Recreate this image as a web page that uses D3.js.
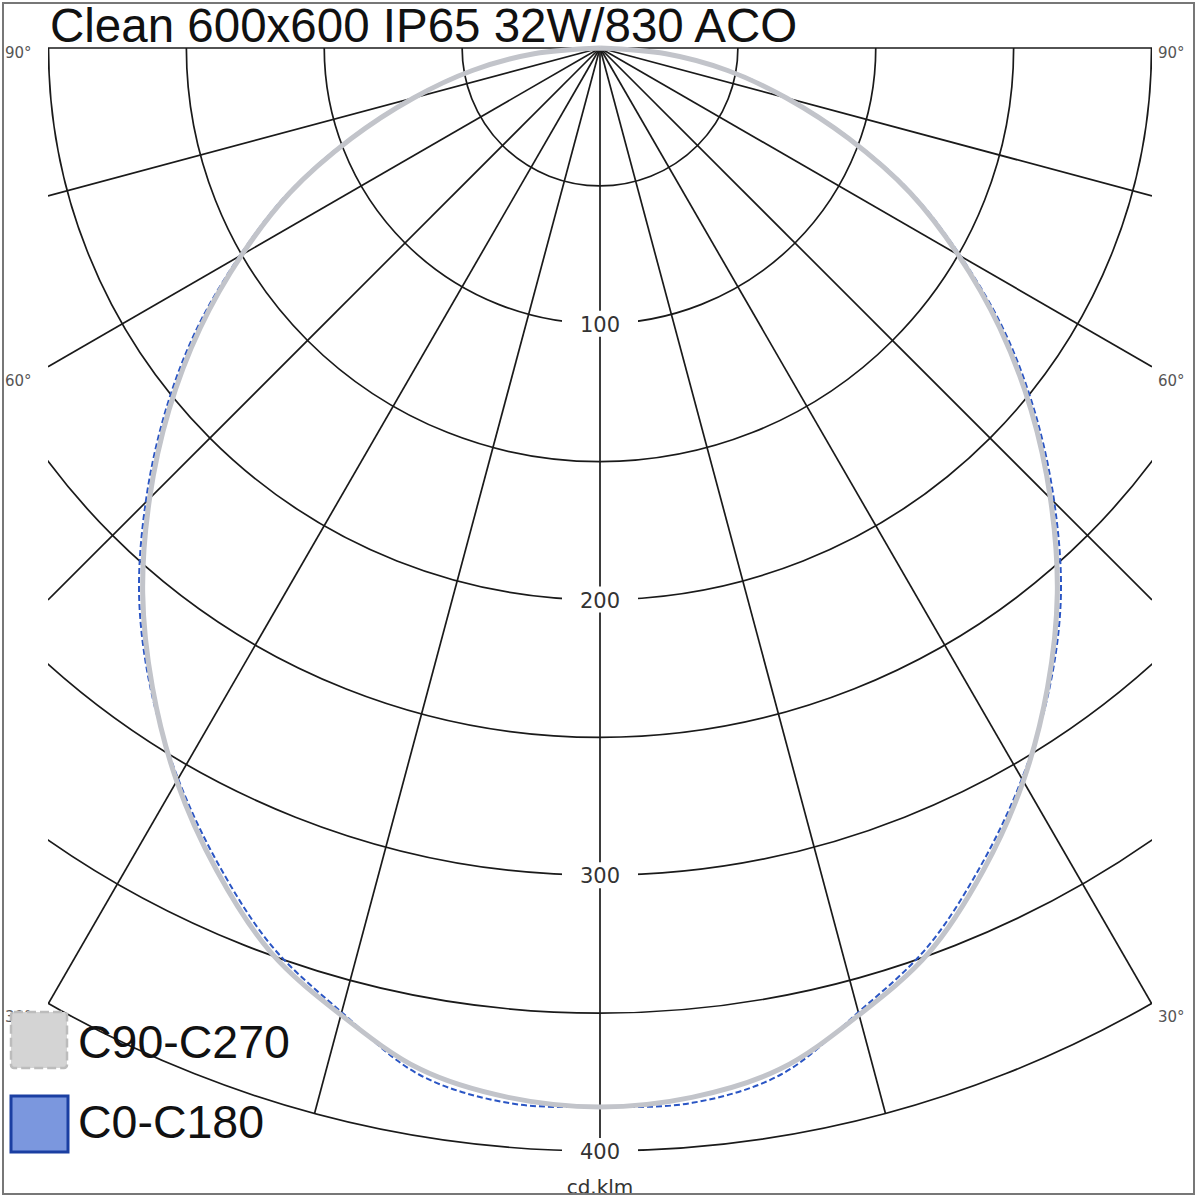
<!DOCTYPE html>
<html><head><meta charset="utf-8">
<script src="https://cdn.jsdelivr.net/npm/d3@7"></script>
<style>html,body{margin:0;padding:0;background:#fff}svg{display:block}text{font-family:"Liberation Sans",Arial,sans-serif}</style>
</head><body>
<script>
// ---- data ----
const title = "Clean 600x600 IP65 32W/830 ACO";
const unitLabel = "cd.klm";
const gamma = [-90,-85,-80,-75,-70,-65,-60,-55,-50,-45,-40,-35,-30,-25,-20,-15,-10,-5,0,5,10,15,20,25,30,35,40,45,50,55,60,65,70,75,80,85,90];
const c90c270 = [0,24,47,70,96,124,150,177,204,231,258,283,307,329,349,363,376,382,384,382,376,363,349,329,307,283,258,231,204,177,150,124,96,70,47,24,0];
const c0c180  = [0,24,48,71,97,125,151,179,206,233,260,284,306,327,347,362,378,384,384,384,378,362,347,327,306,284,260,233,206,179,151,125,97,71,48,24,0];
const ringValues = [50,100,150,200,250,300,350,400];
const ringLabels = [100,200,300,400];
const spokeAngles = [-90,-75,-60,-45,-30,-15,0,15,30,45,60,75,90];
const angleLabels = [90,60,30];
const seriesNames = ["C90-C270","C0-C180"];

const W=1200,H=1200, cx=600, cy=48, xL=48, xR=1152;
const r = d3.scaleLinear().domain([0,400]).range([0,1103]);
const rad = d => d*Math.PI/180;

const svg = d3.select("body").append("svg").attr("width",W).attr("height",H);
svg.append("rect").attr("width",W).attr("height",H).attr("fill","#fff");

svg.append("clipPath").attr("id","clip").append("rect")
  .attr("x",xL).attr("y",cy-1).attr("width",xR-xL).attr("height",1150);

const grid = svg.append("g").attr("clip-path","url(#clip)");
ringValues.forEach(v=>{
  const p = d3.path(); p.arc(cx,cy,r(v),0,Math.PI);
  grid.append("path").attr("d",p.toString()).attr("fill","none").attr("stroke","#1a1a1a").attr("stroke-width",1.7);
});
const spokeEnd = a => {
  const s = Math.abs(Math.sin(rad(a)));
  const len = s>1e-6 ? Math.min(r(400),(cx-xL)/s) : r(400);
  return [cx+len*Math.sin(rad(a)), cy+len*Math.cos(rad(a))];
};
spokeAngles.forEach(a=>{
  const e = spokeEnd(a);
  grid.append("line").attr("x1",cx).attr("y1",cy).attr("x2",e[0]).attr("y2",e[1])
    .attr("stroke","#1a1a1a").attr("stroke-width",1.7);
});

// ring labels
ringLabels.forEach(v=>{
  const y = cy + r(v);
  svg.append("rect").attr("x",cx-38).attr("y",y-13).attr("width",76).attr("height",26).attr("fill","#fff");
  svg.append("text").attr("x",cx).attr("y",y+8).attr("text-anchor","middle")
    .style("font-family","'DejaVu Sans',sans-serif").attr("font-size",21).attr("fill","#333").text(v);
});
svg.append("text").attr("x",cx).attr("y",1194).attr("text-anchor","middle")
  .style("font-family","'DejaVu Sans',sans-serif").attr("font-size",20).attr("fill","#333").text(unitLabel);

// angle labels
angleLabels.forEach(a=>{
  [-1,1].forEach(sd=>{
    const e = spokeEnd(a*sd);
    const off = a===90 ? 10 : 19;
    svg.append("text").attr("x", sd<0 ? 5 : 1158).attr("y", e[1]+off)
      .style("font-family","'DejaVu Sans',sans-serif").attr("font-size",15).attr("fill","#555").text(a+"°");
  });
});

// curves
const line = d3.lineRadial()
  .angle((d,i)=>Math.PI - rad(gamma[i]))
  .radius(d=>r(d))
  .curve(d3.curveCatmullRom.alpha(0.5));
const cg = svg.append("g").attr("transform",`translate(${cx},${cy})`);
cg.append("path").attr("d",line(c0c180)).attr("fill","none")
  .attr("stroke","#2a55c4").attr("stroke-width",2).attr("stroke-dasharray","6,3");
cg.append("path").attr("d",line(c90c270)).attr("fill","none")
  .attr("stroke","#c2c4ca").attr("stroke-width",5);

// title
svg.append("text").attr("x",50).attr("y",42).attr("font-size",47.5).attr("fill","#111").text(title);

// legend
const lg = svg.append("g");
lg.append("rect").attr("x",11).attr("y",1012).attr("width",56).attr("height",56).attr("rx",3)
  .attr("fill","#d4d4d4").attr("stroke","#bcbcbc").attr("stroke-width",2.5).attr("stroke-dasharray","9,4");
lg.append("text").attr("x",78).attr("y",1058).attr("font-size",46.5).attr("fill","#111").text(seriesNames[0]);
lg.append("rect").attr("x",11).attr("y",1096).attr("width",57).attr("height",56)
  .attr("fill","#7b97de").attr("stroke","#1b3fa2").attr("stroke-width",3);
lg.append("text").attr("x",78).attr("y",1138).attr("font-size",46.5).attr("fill","#111").text(seriesNames[1]);

// frame
svg.append("rect").attr("x",3).attr("y",3).attr("width",1191).attr("height",1191)
  .attr("fill","none").attr("stroke","#777").attr("stroke-width",2);
</script>
</body></html>
